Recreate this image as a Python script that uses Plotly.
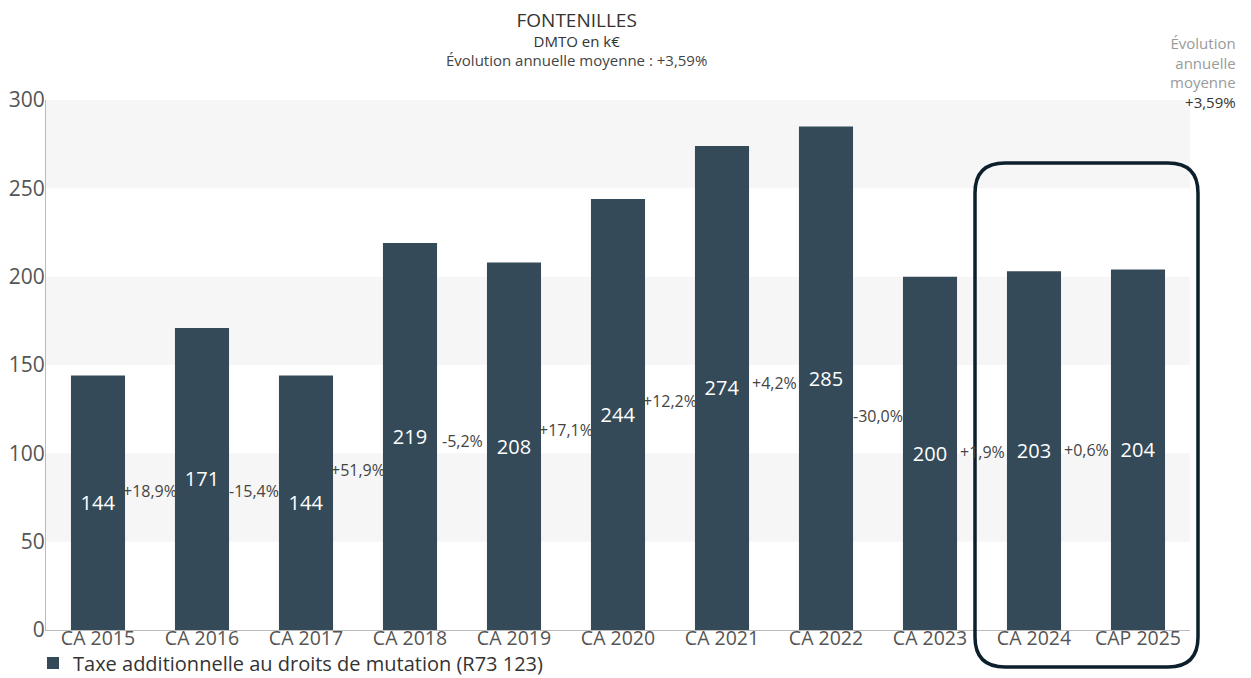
import plotly.graph_objects as go

# --- data -------------------------------------------------------------
categories = ["CA 2015", "CA 2016", "CA 2017", "CA 2018", "CA 2019", "CA 2020",
              "CA 2021", "CA 2022", "CA 2023", "CA 2024", "CAP 2025"]
values = [144, 171, 144, 219, 208, 244, 274, 285, 200, 203, 204]
changes = ["+18,9%", "-15,4%", "+51,9%", "-5,2%", "+17,1%", "+12,2%",
           "+4,2%", "-30,0%", "+1,9%", "+0,6%"]
series_name = "Taxe additionnelle au droits de mutation (R73 123)"
y_ticks = [0, 50, 100, 150, 200, 250, 300]

# --- page geometry ------------------------------------------------------
W, H = 1251, 678
ML, MR, MT, MB = 46, 61, 100, 48
PW, PH = W - ML - MR, H - MT - MB
FONT = "Open Sans"
BAR = "#354a59"


def px_x(p):
    return (p - ML) / PW


def px_y(p):
    return (H - MB - p) / PH


fig = go.Figure()
fig.add_trace(go.Bar(
    x=categories, y=values, name=series_name,
    marker=dict(color=BAR, line=dict(width=0)),
    width=0.52,
    text=[str(v) for v in values], textposition="inside",
    insidetextanchor="middle", constraintext="none",
    textfont=dict(color="white", size=20, family=FONT),
    hoverinfo="x+y",
))

shapes = []
# alternating light bands
for lo, hi in [(50, 100), (150, 200), (250, 300)]:
    shapes.append(dict(type="rect", xref="paper", yref="y", x0=0, x1=1,
                       y0=lo, y1=hi, fillcolor="#f6f6f6", line=dict(width=0),
                       layer="below"))

# rounded frame around the last two columns
x0, x1 = px_x(975), px_x(1198)
y0, y1 = px_y(667), px_y(163)
rx, ry = 30 / PW, 30 / PH
path = (f"M {x0 + rx},{y1} L {x1 - rx},{y1} Q {x1},{y1} {x1},{y1 - ry} "
        f"L {x1},{y0 + ry} Q {x1},{y0} {x1 - rx},{y0} "
        f"L {x0 + rx},{y0} Q {x0},{y0} {x0},{y0 + ry} "
        f"L {x0},{y1 - ry} Q {x0},{y1} {x0 + rx},{y1} Z")
shapes.append(dict(type="path", xref="paper", yref="paper", path=path,
                   line=dict(color="#0c1f2c", width=3.5)))

annotations = []
# year-on-year change labels between bars
for i, lab in enumerate(changes):
    annotations.append(dict(
        x=i + 0.5, y=(values[i] + values[i + 1]) / 4, xref="x", yref="y",
        xanchor="center", yanchor="middle",
        text=lab, showarrow=False, font=dict(size=16, color="#444", family=FONT)))

# title block
title_txt = ("<span style='font-size:19px'>FONTENILLES</span><br>"
             "DMTO en k€<br>"
             "<span style='color:#444'>Évolution annuelle moyenne : +3,59%</span>")
annotations.append(dict(x=px_x(576), y=px_y(39), xref="paper", yref="paper",
                        xanchor="center", yanchor="middle", align="center",
                        text=title_txt, showarrow=False,
                        font=dict(size=15, color="#333", family=FONT)))

# side note (one block, right aligned)
grey = "<span style='color:#9a9a9a'>{}</span>"
note = "<br>".join([grey.format("Évolution"), grey.format("annuelle"),
                    grey.format("moyenne"), "+3,59%"])
annotations.append(dict(x=px_x(1238), y=px_y(73), xref="paper", yref="paper",
                        xanchor="right", yanchor="middle", align="right",
                        text=note, showarrow=False,
                        font=dict(size=15, color="#333", family=FONT)))

fig.update_layout(
    width=W, height=H,
    margin=dict(l=ML, r=MR, t=MT, b=MB, autoexpand=False),
    paper_bgcolor="white", plot_bgcolor="white",
    font=dict(family=FONT, color="#444"),
    bargap=0.48,
    shapes=shapes, annotations=annotations,
    showlegend=True,
    legend=dict(orientation="h", x=px_x(33), xanchor="left", y=px_y(663),
                yanchor="middle", font=dict(size=20, color="#333", family=FONT),
                bgcolor="rgba(0,0,0,0)", itemwidth=30),
    xaxis=dict(type="category", range=[-0.5, 10.5], showgrid=False,
               showline=True, linecolor="#bbbbbb", linewidth=1,
               ticks="", tickfont=dict(size=19.5, color="#555", family=FONT),
               ticklabelstandoff=-9,
               automargin=False, fixedrange=True),
    yaxis=dict(range=[0, 300], tickvals=y_ticks, showgrid=False, zeroline=False,
               showline=True, linecolor="#bbbbbb", linewidth=1,
               ticks="", tickfont=dict(size=21, color="#555", family=FONT),
               ticklabelstandoff=-4,
               automargin=False, fixedrange=True),
)

fig.write_html("out.html")
